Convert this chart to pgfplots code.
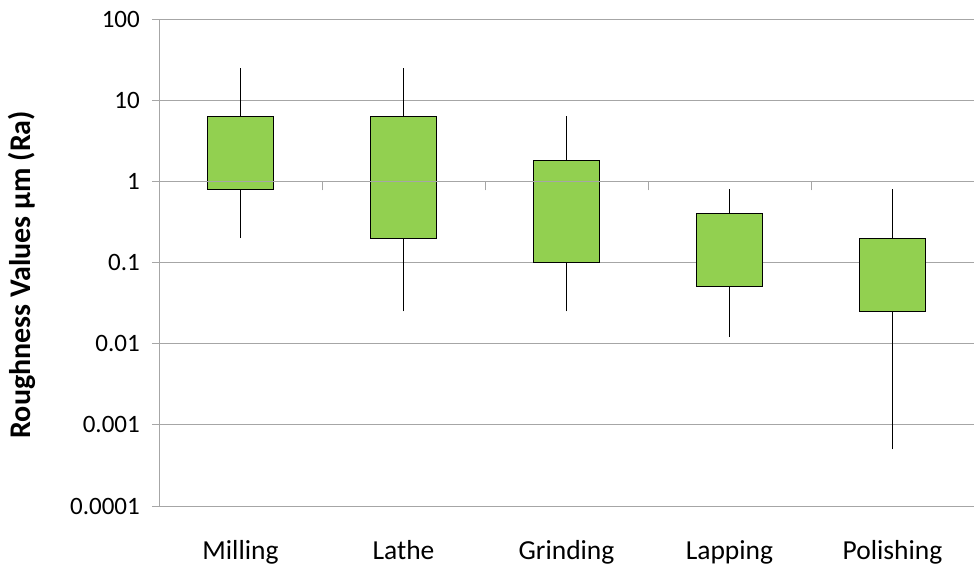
\documentclass[border=0pt]{standalone}
\usepackage{fontspec}
\setmainfont{Carlito}
\usepackage{pgfplots}
\pgfplotsset{compat=1.18}
\usetikzlibrary{calc}
\definecolor{boxgreen}{HTML}{92D050}
\definecolor{gridgray}{HTML}{A6A6A6}
\begin{document}
\begin{tikzpicture}
\begin{axis}[
  scale only axis, width=815bp, height=487bp,
  xmin=-0.5, xmax=4.5,
  ymode=log, ymin=1e-4, ymax=100,
  axis x line=bottom, axis y line=left,
  axis line style={gridgray,-},
  x axis line style={draw=none},
  xtick={0,1,2,3,4},
  xticklabels={Milling,Lathe,Grinding,Lapping,Polishing},
  major x tick style={draw=none},
  xticklabel style={font=\fontsize{27.5bp}{32bp}\selectfont, inner sep=0pt, anchor=base, yshift=-47bp},
  ytick={1e-4,1e-3,1e-2,1e-1,1,10,100},
  yticklabels={0.0001,0.001,0.01,0.1,1,10,100},
  yticklabel style={font=\fontsize{25bp}{30bp}\selectfont, inner sep=0pt, anchor=east, xshift=-12bp},
  y tick style={gridgray, line width=0.8bp},
  tick align=outside, major tick length=7bp,
  yminorticks=false, xminorticks=false,
  ymajorgrids, grid style={gridgray, line width=0.8bp},
  ylabel={\bfseries Roughness Values µm (Ra)},
  ylabel style={font=\fontsize{30bp}{34bp}\selectfont, at={(axis description cs:0,0.475)}, anchor=center, yshift=137bp},
  clip=false,
]
% whiskers: (x, lower whisker) -- (x, upper whisker)
\addplot[black, line width=0.9bp] coordinates {(0,0.2) (0,25)};
\addplot[black, line width=0.9bp] coordinates {(1,0.025) (1,25)};
\addplot[black, line width=0.9bp] coordinates {(2,0.025) (2,6.3)};
\addplot[black, line width=0.9bp] coordinates {(3,0.012) (3,0.8)};
\addplot[black, line width=0.9bp] coordinates {(4,0.0005) (4,0.8)};
% boxes: lower quartile to upper quartile
\addplot[draw=black, line width=1.1bp, fill=boxgreen] coordinates {(-0.2,0.8) (0.2,0.8) (0.2,6.3) (-0.2,6.3)} --cycle;
\addplot[draw=black, line width=1.1bp, fill=boxgreen] coordinates {(0.8,0.2) (1.2,0.2) (1.2,6.3) (0.8,6.3)} --cycle;
\addplot[draw=black, line width=1.1bp, fill=boxgreen] coordinates {(1.8,0.1) (2.2,0.1) (2.2,1.8) (1.8,1.8)} --cycle;
\addplot[draw=black, line width=1.1bp, fill=boxgreen] coordinates {(2.8,0.05) (3.2,0.05) (3.2,0.4) (2.8,0.4)} --cycle;
\addplot[draw=black, line width=1.1bp, fill=boxgreen] coordinates {(3.8,0.025) (4.2,0.025) (4.2,0.2) (3.8,0.2)} --cycle;
\end{axis}
\begin{axis}[
  scale only axis, width=815bp, height=487bp,
  xmin=-0.5, xmax=4.5,
  ymode=log, ymin=1e-4, ymax=100,
  axis x line=middle, axis y line=none,
  axis line style={gridgray,-, line width=0.8bp},
  xtick={0.5,1.5,2.5,3.5}, xticklabels={},
  x tick style={gridgray, line width=0.8bp},
  tick align=outside, major tick length=9bp,
  ytick=\empty, yminorticks=false,
]
\end{axis}
\pgfresetboundingbox
\path ($(current axis.south west)+(-159bp,-62bp)$) rectangle ($(current axis.north east)+(0bp,19bp)$);
\end{tikzpicture}
\end{document}
